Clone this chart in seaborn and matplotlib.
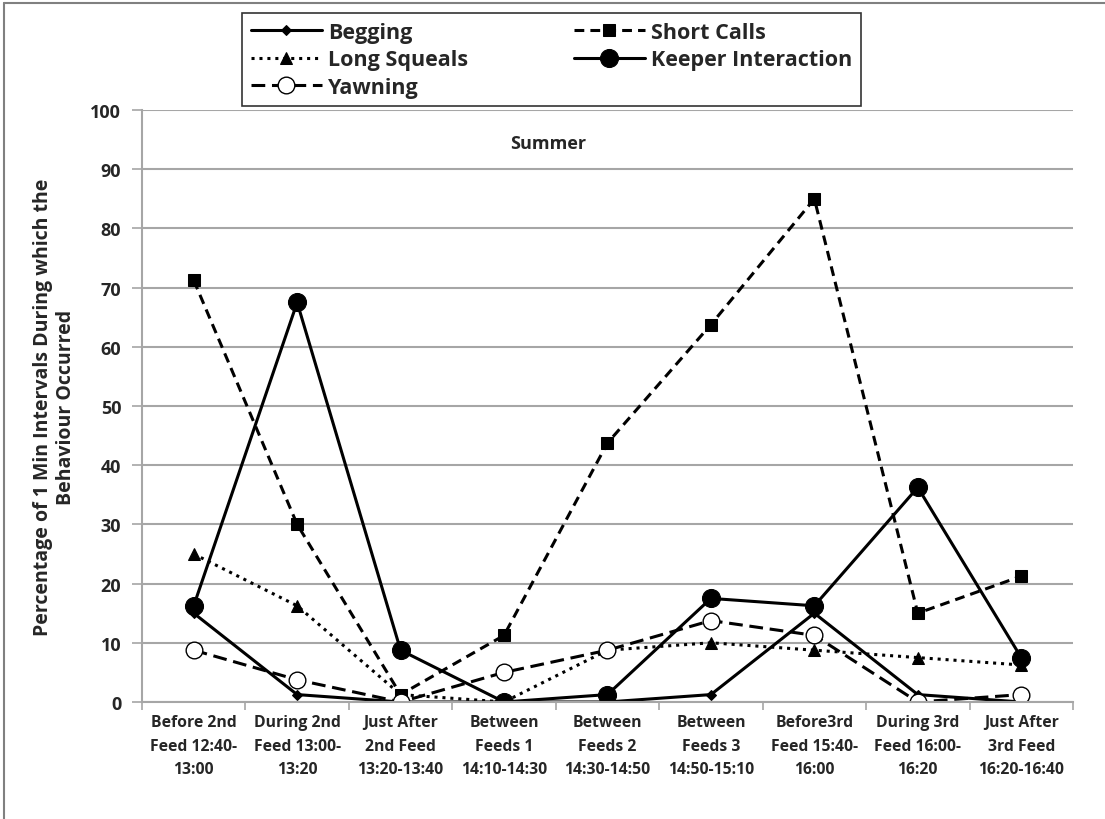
import matplotlib
matplotlib.use("Agg")
import matplotlib.pyplot as plt
import seaborn as sns
import numpy as np
from matplotlib.lines import Line2D

categories = [
    "Before 2nd\nFeed 12:40-\n13:00",
    "During 2nd\nFeed 13:00-\n13:20",
    "Just After\n2nd Feed\n13:20-13:40",
    "Between\nFeeds 1\n14:10-14:30",
    "Between\nFeeds 2\n14:30-14:50",
    "Between\nFeeds 3\n14:50-15:10",
    "Before3rd\nFeed 15:40-\n16:00",
    "During 3rd\nFeed 16:00-\n16:20",
    "Just After\n3rd Feed\n16:20-16:40",
]
begging = [15, 1.25, 0, 0, 0, 1.25, 15, 1.25, 0]
short_calls = [71.25, 30, 1.25, 11.25, 43.75, 63.75, 85, 15, 21.25]
long_squeals = [25, 16.25, 1.25, 0, 8.75, 10, 8.75, 7.5, 6.25]
keeper = [16.25, 67.5, 8.75, 0, 1.25, 17.5, 16.25, 36.25, 7.5]
yawning = [8.75, 3.75, 0, 5, 8.75, 13.75, 11.25, 0, 1.25]

sns.set_theme(style="white")
plt.rcParams['font.family'] = ['Open Sans', 'DejaVu Sans']

fig = plt.figure(figsize=(11.05, 8.2), dpi=100)
ax = fig.add_axes([0.1285, 0.1427, 0.8425, 0.7219])

x = np.arange(len(categories))
lw = 2.2
series = [
    ("Begging", begging, dict(marker="D", markersize=5, linestyle="-", markerfacecolor="black")),
    ("Short Calls", short_calls, dict(marker="s", markersize=8, linestyle=(0, (3.2, 2.0)), markerfacecolor="black")),
    ("Long Squeals", long_squeals, dict(marker="^", markersize=8, linestyle=(0, (1, 1.6)), markerfacecolor="black")),
    ("Keeper Interaction", keeper, dict(marker="o", markersize=13, linestyle="-", markerfacecolor="black")),
    ("Yawning", yawning, dict(marker="o", markersize=12, linestyle=(0, (4.5, 2.2)), markerfacecolor="white", markeredgewidth=1.0)),
]
handles = {}
for name, vals, kw in series:
    sns.lineplot(x=x, y=vals, ax=ax, color="black", linewidth=lw,
                 markeredgecolor="black", label=name, legend=False, **kw)
    handles[name] = ax.get_lines()[-1]

ax.set_xlim(-0.5, len(categories) - 0.5)
ax.set_ylim(0, 100)
ax.set_yticks(np.arange(0, 101, 10))
ax.set_yticklabels([str(v) for v in range(0, 101, 10)], fontsize=13, fontweight="bold")
ax.yaxis.grid(True, color="#a6a6a6", linewidth=1.5)
ax.set_axisbelow(True)

ax.set_xticks(x)
ax.set_xticklabels(categories, fontsize=11.3, fontweight="bold", linespacing=1.62)
ax.tick_params(axis="x", length=0, pad=9)
ax.set_xticks(np.arange(-0.5, len(categories), 1.0), minor=True)
ax.tick_params(axis="x", which="minor", length=6, color="#a6a6a6", width=1.2, direction="out", bottom=True)
ax.tick_params(axis="y", length=7, color="#a6a6a6", width=1.2, direction="out", left=True, pad=8)

for s in ["top", "right"]:
    ax.spines[s].set_visible(False)
for s in ["left", "bottom"]:
    ax.spines[s].set_color("#a6a6a6")
    ax.spines[s].set_linewidth(1.5)

ax.set_ylabel("Percentage of 1 Min Intervals During which the\nBehaviour Occurred",
              fontsize=14, fontweight="bold", labelpad=10, linespacing=1.25)
ax.text(0.436, 0.945, "Summer", transform=ax.transAxes, ha="center", va="center",
        fontsize=13, fontweight="bold")

order = ["Begging", "Long Squeals", "Yawning", "Short Calls", "Keeper Interaction"]
leg = fig.legend([handles[n] for n in order], order, ncol=2, loc="upper left",
                 bbox_to_anchor=(242 / 1105, 1 - 14 / 820), bbox_transform=fig.transFigure,
                 frameon=True, fancybox=False, edgecolor="black",
                 prop={"weight": "bold", "size": 15.5}, handlelength=3.3, columnspacing=4.9,
                 labelspacing=0.3, borderpad=0.4, handletextpad=0.3, borderaxespad=0)
leg.get_frame().set_linewidth(1.2)

fig.add_artist(Line2D([0.004, 0.004], [0.0, 0.995], transform=fig.transFigure,
                      color="#808080", linewidth=1.5))
fig.add_artist(Line2D([0.004, 1.0], [0.995, 0.995], transform=fig.transFigure,
                      color="#808080", linewidth=1.5))

fig.savefig("out.png", dpi=100)
